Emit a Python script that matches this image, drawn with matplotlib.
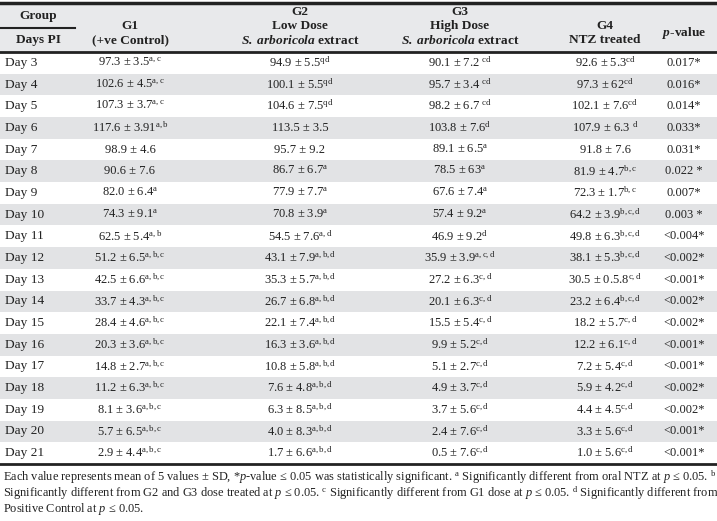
import matplotlib.pyplot as plt
from matplotlib.patches import Rectangle

plt.rcParams['font.family'] = ['Liberation Serif', 'DejaVu Serif']
plt.rcParams['mathtext.fontset'] = 'custom'
plt.rcParams['mathtext.rm'] = 'Liberation Serif'
plt.rcParams['mathtext.it'] = 'Liberation Serif:italic'
plt.rcParams['mathtext.bf'] = 'Liberation Serif:bold'
plt.rcParams['mathtext.bfit'] = 'Liberation Serif:italic:bold'

days = ["Day %d" % d for d in range(3, 22)]
g1 = ["97.3 ± 3.5|a,c", "102.6 ± 4.5|a,c", "107.3 ± 3.7|a,c", "117.6 ± 3.91|a,b", "98.9 ± 4.6|",
      "90.6 ± 7.6|", "82.0 ± 6.4|a", "74.3 ± 9.1|a", "62.5 ± 5.4|a,b", "51.2 ± 6.5|a,b,c",
      "42.5 ± 6.6|a,b,c", "33.7 ± 4.3|a,b,c", "28.4 ± 4.6|a,b,c", "20.3 ± 3.6|a,b,c", "14.8 ± 2.7|a,b,c",
      "11.2 ± 6.3|a,b,c", "8.1 ± 3.6|a,b,c", "5.7 ± 6.5|a,b,c", "2.9 ± 4.4|a,b,c"]
g2 = ["94.9 ± 5.5|qd", "100.1 ± 5.5|qd", "104.6 ± 7.5|qd", "113.5 ± 3.5|", "95.7 ± 9.2|",
      "86.7 ± 6.7|a", "77.9 ± 7.7|a", "70.8 ± 3.9|a", "54.5 ± 7.6|a,d", "43.1 ± 7.9|a,b,d",
      "35.3 ± 5.7|a,b,d", "26.7 ± 6.8|a,b,d", "22.1 ± 7.4|a,b,d", "16.3 ± 3.6|a,b,d", "10.8 ± 5.8|a,b,d",
      "7.6 ± 4.8|a,b,d", "6.3 ± 8.5|a,b,d", "4.0 ± 8.3|a,b,d", "1.7 ± 6.6|a,b,d"]
g3 = ["90.1 ± 7.2 |cd", "95.7 ± 3.4 |cd", "98.2 ± 6.7 |cd", "103.8 ± 7.6|d", "89.1 ± 6.5|a",
      "78.5 ± 63|a", "67.6 ± 7.4|a", "57.4 ± 9.2|a", "46.9 ± 9.2|d", "35.9 ± 3.9|a,c,d",
      "27.2 ± 6.3|c,d", "20.1 ± 6.3|c,d", "15.5 ± 5.4|c,d", "9.9 ± 5.2|c,d", "5.1 ± 2.7|c,d",
      "4.9 ± 3.7|c,d", "3.7 ± 5.6|c,d", "2.4 ± 7.6|c,d", "0.5 ± 7.6|c,d"]
g4 = ["92.6 ± 5.3|cd", "97.3 ± 62|cd", "102.1 ± 7.6|cd", "107.9 ± 6.3 |d", "91.8 ± 7.6|",
      "81.9 ± 4.7|b,c", "72.3 ± 1.7|b,c", "64.2 ± 3.9|b,c,d", "49.8 ± 6.3|b,c,d", "38.1 ± 5.3|b,c,d",
      "30.5 ± 0.5.8|c,d", "23.2 ± 6.4|b,c,d", "18.2 ± 5.7|c,d", "12.2 ± 6.1|c,d", "7.2 ± 5.4|c,d",
      "5.9 ± 4.2|c,d", "4.4 ± 4.5|c,d", "3.3 ± 5.6|c,d", "1.0 ± 5.6|c,d"]
pvals = ["0.017*", "0.016*", "0.014*", "0.033*", "0.031*", "0.022 *", "0.007*", "0.003 *",
         "<0.004*", "<0.002*", "<0.001*", "<0.002*", "<0.002*", "<0.001*", "<0.001*",
         "<0.002*", "<0.002*", "<0.001*", "<0.001*"]

footnote = [
    r"Each value represents mean of 5 values ± SD, *$p$-value ≤ 0.05 was statistically significant. $^{\mathrm{a}}$ Significantly different from oral NTZ at $p$ ≤ 0.05. $^{\mathrm{b}}$",
    r"Significantly different from G2 and G3 dose treated at $p$ ≤ 0.05. $^{\mathrm{c}}$ Significantly different from G1 dose at $p$ ≤ 0.05. $^{\mathrm{d}}$ Significantly different from",
    r"Positive Control at $p$ ≤ 0.05.",
]

W, H = 717, 521
fig = plt.figure(figsize=(W / 100, H / 100), dpi=100)
ax = fig.add_axes([0, 0, 1, 1])
ax.set_xlim(0, W)
ax.set_ylim(H, 0)
ax.axis('off')

header_top, header_bot, body_bot = 3, 52, 464
row_h = (body_bot - header_bot) / len(days)
grey = '#e2e3e5'
ax.add_patch(Rectangle((0, header_top), W, header_bot - header_top, color='#e8e9eb', lw=0))
for i in range(len(days)):
    if i % 2 == 1:
        ax.add_patch(Rectangle((0, header_bot + i * row_h), W, row_h, color=grey, lw=0))

ax.plot([0, W], [header_top, header_top], color='#222', lw=2.5)
ax.plot([0, W], [header_bot, header_bot], color='#222', lw=2.0)
ax.plot([0, W], [body_bot, body_bot], color='#222', lw=2.0)
ax.plot([0, 75], [28, 28], color='#222', lw=1.5)

fs = 9.0
hk = dict(ha='center', va='center', fontsize=fs + 0.6, fontweight='bold', color='#222')
ax.text(38, 16, "Group", **hk)
ax.text(38, 40, "Days PI", **hk)
ax.text(130, 26, "G1", **hk)
ax.text(130, 40, "(+ve Control)", **hk)
for x, top, mid in [(300, "G2", "Low Dose"), (460, "G3", "High Dose")]:
    ax.text(x, 12, top, **hk)
    ax.text(x, 26, mid, **hk)
    ax.text(x, 41, r"$\mathbfit{S.\ arboricola}\ \mathbf{extract}$", **hk)
ax.text(605, 26, "G4", **hk)
ax.text(605, 40, "NTZ treated", **hk)
ax.text(684, 33, r"$\mathbfit{p}$-value", **hk)

def cell(s):
    main, sup = s.split('|')
    if sup:
        return main + r"$^{\mathrm{" + sup + "}}$"
    return main

for i, d in enumerate(days):
    y = header_bot + (i + 0.5) * row_h
    ax.text(5, y, d, ha='left', va='center', fontsize=fs + 0.6, color='#222')
    for x, col in [(130, g1), (300, g2), (460, g3), (605, g4)]:
        ax.text(x, y, cell(col[i]), ha='center', va='center', fontsize=fs, color='#222')
    ax.text(684, y, pvals[i], ha='center', va='center', fontsize=fs, color='#222')

for j, line in enumerate(footnote):
    ax.text(3, 477 + j * 16, line, ha='left', va='center', fontsize=8.9, color='#222')

fig.savefig('out.png', dpi=100)
